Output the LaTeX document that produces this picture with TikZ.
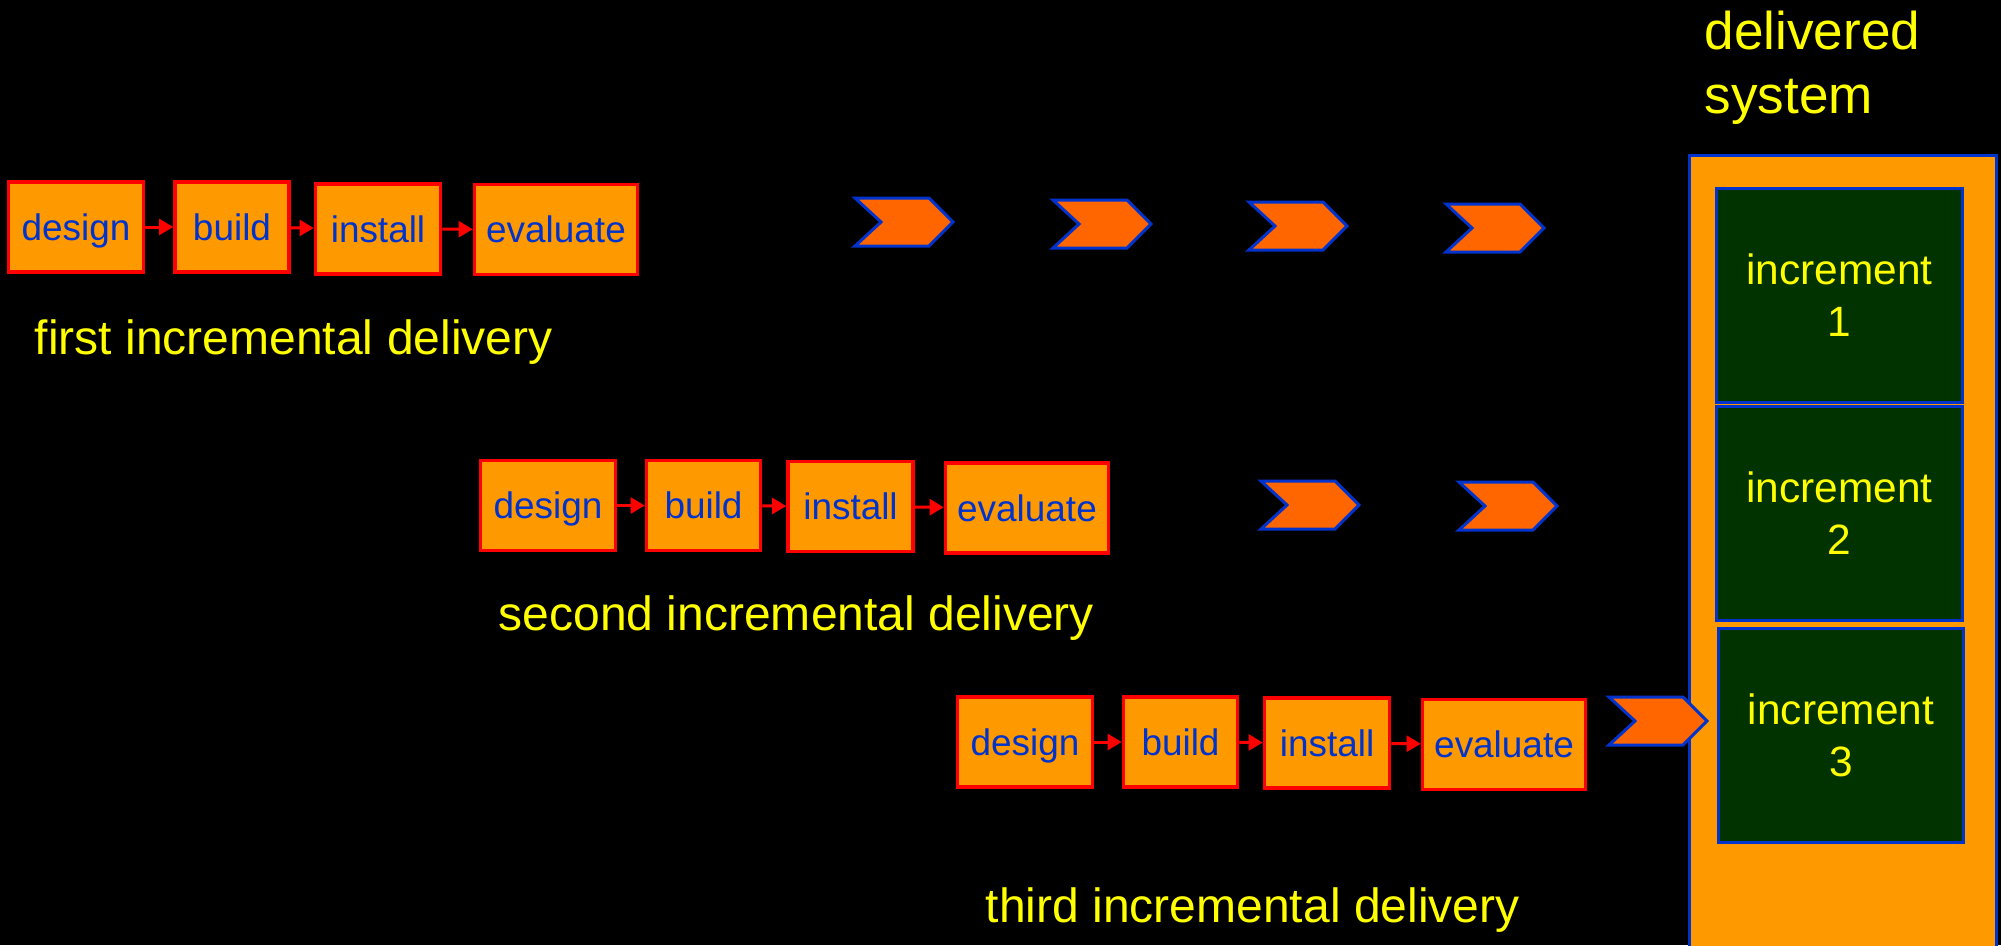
\documentclass[tikz,border=0pt]{standalone}
\usepackage{fontspec}
\setmainfont{Liberation Sans}
\usetikzlibrary{arrows.meta}

\definecolor{boxorange}{RGB}{255,153,0}
\definecolor{chevorange}{RGB}{255,102,0}
\definecolor{lineblue}{RGB}{0,51,204}
\definecolor{incgreen}{RGB}{0,51,0}
\definecolor{labelyellow}{RGB}{255,255,0}

% struts giving a text block the full ascent and descent of the font
\newcommand\ascstrut{\rule{0pt}{0.905em}}
\newcommand\descstrut{\rule[-0.212em]{0pt}{0.212em}}

\tikzset{
  stepbox/.style={draw=red, fill=boxorange, line width=1pt, inner sep=0pt,
    text=lineblue, font=\fontsize{10.5}{12}\selectfont, minimum height=9mm,
    text height=0.93em, text depth=0.17em},
  wdesign/.style={minimum width=13.5mm},
  wbuild/.style={minimum width=11.4mm},
  winstall/.style={minimum width=12.5mm},
  wevaluate/.style={minimum width=16.3mm},
  flow/.style={draw=red, line width=0.85pt, -{Triangle[length=4pt,width=4.5pt]}},
  rowlabel/.style={text=labelyellow, font=\fontsize{13.66}{16}\selectfont,
    anchor=base west, inner sep=0pt},
  incbox/.style={draw=lineblue, fill=incgreen, line width=0.85pt, text=labelyellow,
    align=center, font=\fontsize{12.06}{14.8}\selectfont,
    minimum width=24.5mm, minimum height=21.3mm, inner sep=0pt},
  chevron/.pic={
    \draw[draw=lineblue, fill=chevorange, line width=0.85pt]
      (0,0) -- (74,0) -- (98,24) -- (74,48) -- (0,48) -- (26,24) -- cycle;
  }
}

\begin{document}
\begin{tikzpicture}[x=0.01cm, y=-0.01cm]
  \useasboundingbox (0,0) rectangle (2001,945);
  \fill[black] (0,0) rectangle (2001,945);

  % delivered system container
  \node[draw=lineblue, fill=boxorange, line width=0.85pt, inner sep=0pt,
        minimum width=30.6mm, minimum height=80.4mm] (sys) at (1843,558) {};
  \node[text=labelyellow, font=\fontsize{15.1}{18.2}\selectfont, align=left,
        anchor=north west, inner sep=0pt] (systitle) at (1704,10) {delivered\\system};

  \node[incbox] (inc1) at (1839.5,295.5) {\ascstrut increment\\1\descstrut};
  \node[incbox] (inc2) at (1839.5,513.5) {\ascstrut increment\\2\descstrut};
  \node[incbox] (inc3) at (1841,735.5)   {\ascstrut increment\\3\descstrut};

  % first increment
  \node[stepbox, wdesign]   (d1) at (76,227)    {design};
  \node[stepbox, wbuild]    (b1) at (232,227)   {build};
  \node[stepbox, winstall]  (i1) at (378,229)   {install};
  \node[stepbox, wevaluate] (e1) at (556,229.5) {evaluate};
  \draw[flow] (d1) -- (b1);
  \draw[flow] (b1) -- (i1);
  \draw[flow] (i1) -- (e1);
  \node[rowlabel] (l1) at (34,354) {first incremental delivery};

  % second increment
  \node[stepbox, wdesign]   (d2) at (548,505.5)  {design};
  \node[stepbox, wbuild]    (b2) at (703.5,505.5) {build};
  \node[stepbox, winstall]  (i2) at (850.5,506.5) {install};
  \node[stepbox, wevaluate] (e2) at (1027,508)   {evaluate};
  \draw[flow] (d2) -- (b2);
  \draw[flow] (b2) -- (i2);
  \draw[flow] (i2) -- (e2);
  \node[rowlabel] (l2) at (498,630) {second incremental delivery};

  % third increment
  \node[stepbox, wdesign]   (d3) at (1025,742)   {design};
  \node[stepbox, wbuild]    (b3) at (1180.5,742) {build};
  \node[stepbox, winstall]  (i3) at (1327,743)   {install};
  \node[stepbox, wevaluate] (e3) at (1504,744.5) {evaluate};
  \draw[flow] (d3) -- (b3);
  \draw[flow] (b3) -- (i3);
  \draw[flow] (i3) -- (e3);
  \node[rowlabel] (l3) at (985,922) {third incremental delivery};

  % hand-over chevrons
  \pic at (855,198)  {chevron};
  \pic at (1053,200) {chevron};
  \pic at (1249,202) {chevron};
  \pic at (1446,204) {chevron};
  \pic at (1261,481) {chevron};
  \pic at (1459,482) {chevron};
  \pic at (1609,697) {chevron};
\end{tikzpicture}
\end{document}
